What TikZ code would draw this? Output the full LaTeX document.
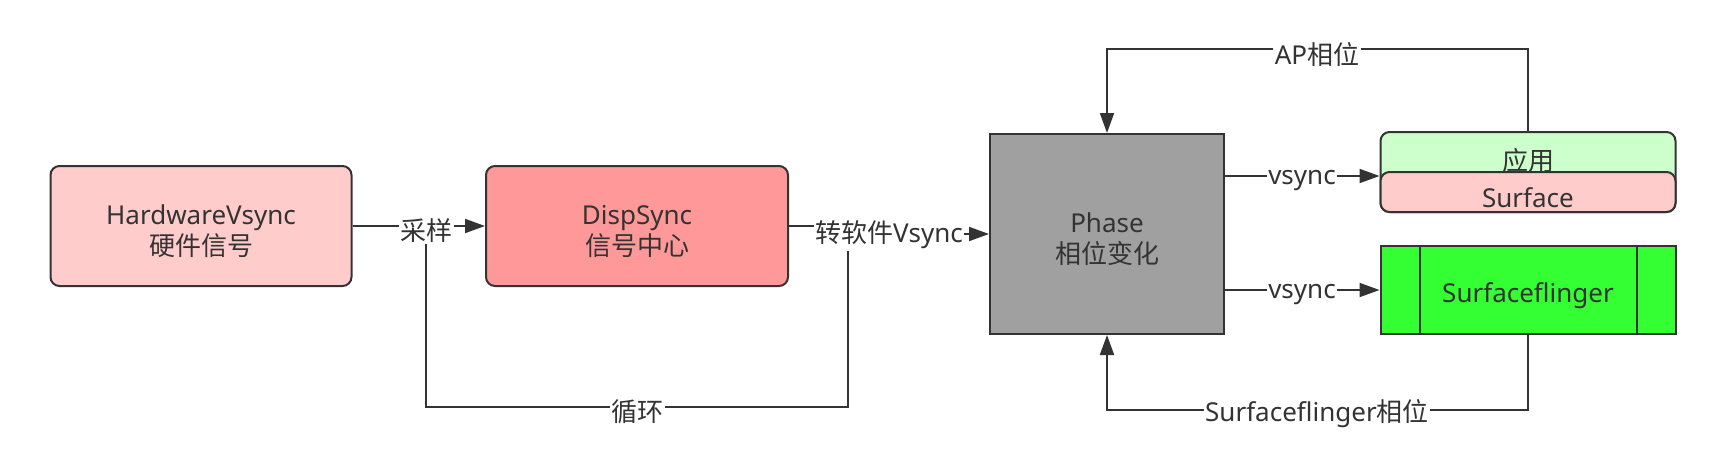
\documentclass[tikz,border=0pt]{standalone}
\usepackage{fontspec}
\setmainfont{Noto Sans}
\newfontfamily\cjk{Noto Sans CJK SC}
\usetikzlibrary{arrows.meta}
\definecolor{ink}{HTML}{333333}
\definecolor{hwfill}{HTML}{FFCCCC}
\definecolor{dsfill}{HTML}{FF9999}
\definecolor{phfill}{HTML}{A0A0A0}
\definecolor{appfill}{HTML}{CCFFCC}
\definecolor{sffill}{HTML}{33FF33}
\begin{document}
\begin{tikzpicture}[x=1pt,y=-1pt,
  box/.style={draw=ink, line width=2pt, inner sep=0pt},
  rbox/.style={box, rounded corners=9pt},
  conn/.style={draw=ink, line width=2pt},
  arr/.style={conn, -{Triangle[length=20pt,width=14pt]}},
  lbl/.style={fill=white, text=ink, font=\fontsize{26}{31}\selectfont, inner sep=1.5pt, yshift=-5pt},
  txt/.style={text=ink, font=\fontsize{26}{31}\selectfont, inner sep=0pt, align=center, yshift=-5.5pt}]
\useasboundingbox[fill=white] (0,0) rectangle (1725,459);

% nodes
\node[rbox, fill=hwfill, minimum width=301pt, minimum height=120pt,
  label={[txt]center:{HardwareVsync\\{\cjk 硬件信号}}}] (hw) at (201,226) {};
\node[rbox, fill=dsfill, minimum width=302pt, minimum height=120pt,
  label={[txt]center:{DispSync\\{\cjk 信号中心}}}] (ds) at (637,226) {};
\node[box, fill=phfill, minimum width=234pt, minimum height=200pt,
  label={[txt]center:{Phase\\{\cjk 相位变化}}}] (ph) at (1107,234) {};
\node[rbox, fill=appfill, minimum width=295pt, minimum height=80pt] (app) at (1528,172) {};
\node[txt, yshift=5.5pt] (applbl) at (1528,161) {\cjk 应用};
\node[rbox, fill=hwfill, minimum width=295pt, minimum height=40pt,
  label={[txt]center:Surface}] (surf) at (1528,192) {};
\node[box, fill=sffill, minimum width=295pt, minimum height=88pt,
  label={[txt]center:Surfaceflinger}] (sf) at (1528,290) {};
\draw[conn] ([xshift=40pt]sf.north west) -- ([xshift=40pt]sf.south west);
\draw[conn] ([xshift=-40pt]sf.north east) -- ([xshift=-40pt]sf.south east);

% loop (drawn first, covered by labels)
\coordinate (loopA) at (848,234);
\coordinate (loopB) at (426,226);
\draw[conn] (loopA) -- (848,407) -- (426,407) -- (loopB);
\node[lbl] (lloop) at (637,407) {\cjk 循环};

% main edges
\draw[arr] (hw.east) -- (ds.west);
\node[lbl] (lsamp) at (426,226) {\cjk 采样};

\coordinate (j1) at (889,226);
\coordinate (j2) at (889,234);
\draw[arr] (ds.east) -- (j1) -- (j2) -- (ph.west);
\node[lbl] (lsoft) at (889,230) {{\cjk 转软件}Vsync};

\coordinate (v1) at (1300,176);
\draw[arr] (ph.east |- v1) -- (app.west |- v1);
\node[lbl] (lv1) at (1302,176) {vsync};

\draw[arr] (ph.east |- sf.west) -- (sf.west);
\node[lbl] (lv2) at (1302,290) {vsync};

\draw[arr] (app.north) -- ++(0,-82) -| (ph.north);
\node[lbl] (lap) at (1317,50) {AP{\cjk 相位}};

\draw[arr] (sf.south) -- ++(0,75) -| (ph.south);
\node[lbl] (lsfp) at (1317,409) {Surfaceflinger{\cjk 相位}};
\end{tikzpicture}
\end{document}
